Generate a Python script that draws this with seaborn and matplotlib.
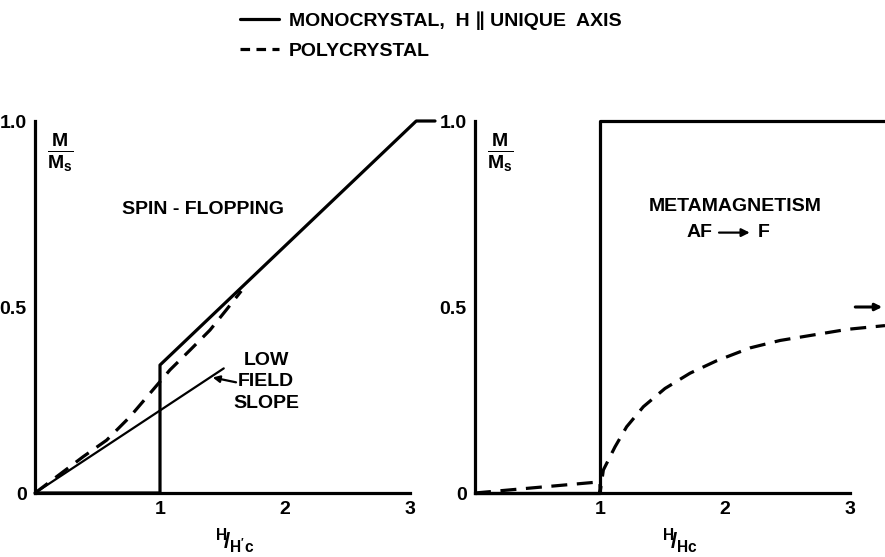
import numpy as np
import matplotlib
matplotlib.use("Agg")
import matplotlib.pyplot as plt
from matplotlib.lines import Line2D
import seaborn as sns

# spin-flop panel (left), x = H/H'c, y = M/Ms
mono_sf_x = [0.0, 1.0, 1.0, 3.05, 3.2]
mono_sf_y = [0.0, 0.0, 0.344, 1.0, 1.0]
poly_sf_x = [0.0, 0.387, 0.573, 0.76, 0.92, 1.08, 1.24, 1.4, 1.53, 1.65]
poly_sf_y = [0.0, 0.098, 0.142, 0.205, 0.268, 0.331, 0.384, 0.438, 0.492, 0.543]
slope_x = [0.0, 1.51]
slope_y = [0.0, 0.335]

# metamagnet panel (right), x = H/Hc
mono_mm_x = [0.0, 1.0, 1.0, 3.28]
mono_mm_y = [0.0, 0.0, 1.0, 1.0]
poly_mm_x = [0.0, 1.0, 1.0, 1.027, 1.12, 1.213, 1.347, 1.52, 1.72, 1.93,
             2.2, 2.44, 2.98, 3.28]
poly_mm_y = [0.0, 0.03, 0.0, 0.062, 0.124, 0.178, 0.232, 0.281, 0.322, 0.355,
             0.39, 0.41, 0.44, 0.45]

yticks = [0, 0.5, 1.0]
yticklabels = ["0", "0.5", "1.0"]
xticks = [1, 2, 3]
xticklabels = ["1", "2", "3"]

sns.set_style("white", {"text.color": "black", "axes.labelcolor": "black",
                        "xtick.color": "black", "ytick.color": "black"})
plt.rcParams["font.family"] = ["Liberation Sans", "DejaVu Sans"]
plt.rcParams["font.weight"] = "bold"
plt.rcParams["mathtext.fontset"] = "custom"
plt.rcParams["mathtext.bf"] = "Liberation Sans:bold"
plt.rcParams["mathtext.rm"] = "Liberation Sans:bold"

fig = plt.figure(figsize=(8.85, 5.57), dpi=100)
ax1 = fig.add_axes([35 / 885, 64 / 557, 400 / 885, 372 / 557])
ax2 = fig.add_axes([475 / 885, 64 / 557, 410 / 885, 372 / 557])

lw = 2.3
fs = 14

def style_axis(ax, xmax, xlabel):
    ax.set_xlim(0, xmax)
    ax.set_ylim(0, 1.0)
    for s in ["top", "right"]:
        ax.spines[s].set_visible(False)
    for s in ["left", "bottom"]:
        ax.spines[s].set_linewidth(lw)
        ax.spines[s].set_color("black")
    ax.spines["bottom"].set_bounds(0, 3)
    ax.set_xticks(xticks)
    ax.set_xticklabels(xticklabels, fontsize=fs, fontweight="bold")
    ax.set_yticks(yticks)
    ax.set_yticklabels(yticklabels, fontsize=fs, fontweight="bold")
    ax.tick_params(axis="x", direction="in", length=9, width=lw, pad=6)
    ax.tick_params(axis="y", direction="inout", length=12, width=lw, pad=0)
    ax.set_xlabel(xlabel, fontsize=16, labelpad=6)
    ax.set_ylabel("")
    ax.patch.set_alpha(0)
    ax.text(0.2, 0.915, r"$\frac{\mathbf{M}}{\mathbf{M_s}}$", fontsize=20,
            ha="center", va="center")

# left panel
sns.lineplot(x=mono_sf_x, y=mono_sf_y, sort=False, estimator=None, ax=ax1,
             color="black", lw=lw, clip_on=False)
sns.lineplot(x=poly_sf_x, y=poly_sf_y, sort=False, estimator=None, ax=ax1,
             color="black", lw=lw, linestyle=(0, (5, 3)))
sns.lineplot(x=slope_x, y=slope_y, sort=False, estimator=None, ax=ax1,
             color="black", lw=1.6)
style_axis(ax1, 3.2, r"$^{\mathbf{H}}\!/_{\mathbf{H'c}}$")
ax1.text(1.34, 0.761, "SPIN - FLOPPING", fontsize=fs, ha="center", va="center")
ax1.text(1.85, 0.38, "LOW\nFIELD\nSLOPE", fontsize=fs, ha="center", va="top",
         linespacing=1.35)
ax1.annotate("", xy=(1.40, 0.312), xytext=(1.63, 0.296),
             arrowprops=dict(arrowstyle="-|>", color="black", lw=1.6))

# right panel
sns.lineplot(x=mono_mm_x, y=mono_mm_y, sort=False, estimator=None, ax=ax2,
             color="black", lw=lw, clip_on=False)
sns.lineplot(x=poly_mm_x, y=poly_mm_y, sort=False, estimator=None, ax=ax2,
             color="black", lw=lw, linestyle=(0, (5, 3)))
style_axis(ax2, 3.28, r"$^{\mathbf{H}}\!/_{\mathbf{Hc}}$")
ax2.text(2.08, 0.77, "METAMAGNETISM", fontsize=fs, ha="center", va="center")
ax2.text(1.80, 0.70, "AF", fontsize=fs, ha="center", va="center")
ax2.text(2.31, 0.70, "F", fontsize=fs, ha="center", va="center")
ax2.annotate("", xy=(2.22, 0.70), xytext=(1.93, 0.70),
             arrowprops=dict(arrowstyle="-|>", color="black", lw=1.6,
                             mutation_scale=12))
ax2.annotate("", xy=(3.28, 0.5), xytext=(3.02, 0.5),
             arrowprops=dict(arrowstyle="-|>", color="black", lw=2.2),
             annotation_clip=False)

# legend at top
handles = [Line2D([], [], color="black", lw=lw),
           Line2D([], [], color="black", lw=lw, linestyle=(0, (3, 2)))]
fig.legend(handles, ["MONOCRYSTAL,  H \u2225 UNIQUE  AXIS", "POLYCRYSTAL"],
           loc="upper left", bbox_to_anchor=(228 / 885, 1.0), frameon=False,
           fontsize=fs, handlelength=2.0, handletextpad=0.55, labelspacing=0.6,
           borderaxespad=0.2)

fig.savefig("out.png", dpi=100)
